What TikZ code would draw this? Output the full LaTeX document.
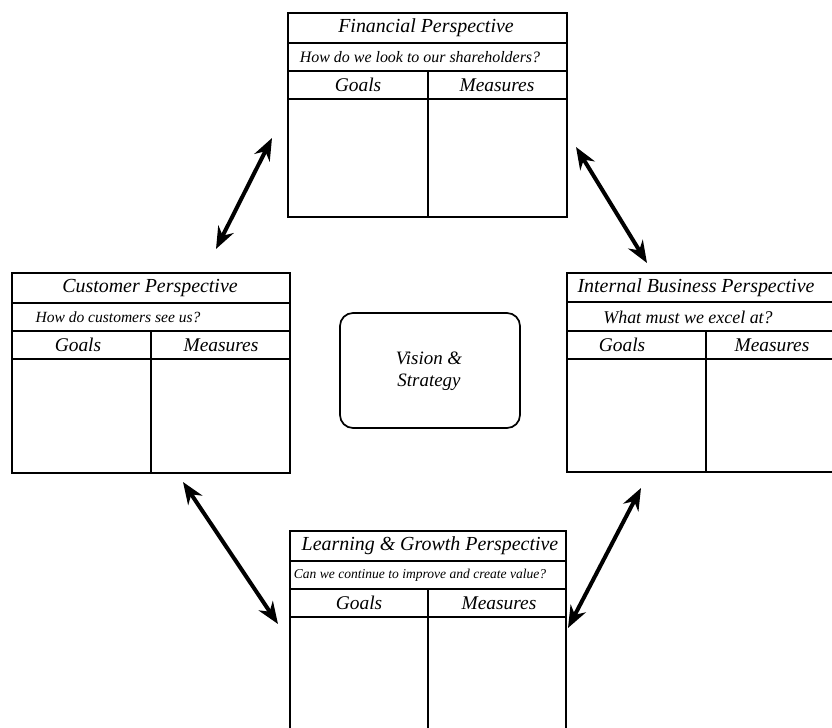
\documentclass[tikz,border=0pt]{standalone}
\usepackage{fontspec}
\setmainfont{Liberation Serif}
\usetikzlibrary{arrows.meta,fit}

\begin{document}
\begin{tikzpicture}[x=1bp,y=-1bp,
  frame/.style={draw=black, line width=1.6bp, inner sep=0pt},
  rowrule/.style={draw=black, line width=1.6bp},
  thickrule/.style={draw=black, line width=2.1bp},
  ttl/.style={inner sep=0pt, font=\fontsize{20}{22}\selectfont\itshape},
  hdr/.style={inner sep=0pt, font=\fontsize{19.5}{22}\selectfont\itshape},
  qst/.style={inner sep=0pt, font=\fontsize{#1}{#1}\selectfont\itshape},
  hub/.style={draw=black, line width=1.7bp, rounded corners=13bp, inner sep=0pt},
  link/.style={line width=4bp, {Stealth[length=22bp,width=17bp]}-{Stealth[length=22bp,width=17bp]}}
]
\useasboundingbox (0,0) rectangle (832,728);
\fill[white] (0,0) rectangle (832,728);

% ---------- Financial perspective ----------
\coordinate (fin-nw) at (288,13);
\coordinate (fin-se) at (567,217);
\node[frame, fit=(fin-nw)(fin-se)] (fin) {};
\draw[rowrule] (288,43) -- (567,43);
\draw[rowrule] (288,71) -- (567,71);
\draw[thickrule] (288,99) -- (567,99);
\draw[thickrule] (428,71) -- (428,217);
\node[ttl] (fin-title) at (426,28) {Financial Perspective};
\node[qst=16] (fin-q) at (420,57) {How do we look to our shareholders?};
\node[hdr] (fin-goals) at (358,85) {Goals};
\node[hdr] (fin-meas) at (497,85) {Measures};

% ---------- Customer perspective ----------
\coordinate (cus-nw) at (12,273);
\coordinate (cus-se) at (290,473);
\node[frame, fit=(cus-nw)(cus-se)] (cus) {};
\draw[rowrule] (12,303) -- (290,303);
\draw[rowrule] (12,331) -- (290,331);
\draw[thickrule] (12,359) -- (290,359);
\draw[thickrule] (151,331) -- (151,473);
\node[ttl] (cus-title) at (150,288) {Customer Perspective};
\node[qst=15.6] (cus-q) at (118,317) {How do customers see us?};
\node[hdr] (cus-goals) at (78,345) {Goals};
\node[hdr] (cus-meas) at (221,345) {Measures};

% ---------- Internal business perspective ----------
\coordinate (int-nw) at (567,273);
\coordinate (int-se) at (845,472);
\node[frame, fit=(int-nw)(int-se)] (int) {};
\draw[rowrule] (567,302) -- (845,302);
\draw[rowrule] (567,331) -- (845,331);
\draw[thickrule] (567,359) -- (845,359);
\draw[thickrule] (706,331) -- (706,472);
\node[ttl] (int-title) at (696,288) {Internal Business Perspective};
\node[qst=18] (int-q) at (688,317) {What must we excel at?};
\node[hdr] (int-goals) at (622,345) {Goals};
\node[hdr] (int-meas) at (772,345) {Measures};

% ---------- Learning & growth perspective ----------
\coordinate (lrn-nw) at (290,531);
\coordinate (lrn-se) at (566,740);
\node[frame, fit=(lrn-nw)(lrn-se)] (lrn) {};
\draw[rowrule] (290,561) -- (566,561);
\draw[rowrule] (290,589) -- (566,589);
\draw[thickrule] (290,617) -- (566,617);
\draw[thickrule] (428,589) -- (428,740);
\node[ttl] (lrn-title) at (430,546) {Learning \& Growth Perspective};
\node[qst=13.6] (lrn-q) at (420,575) {Can we continue to improve and create value?};
\node[hdr] (lrn-goals) at (359,603) {Goals};
\node[hdr] (lrn-meas) at (499,603) {Measures};

% ---------- Vision & strategy ----------
\coordinate (vis-nw) at (340,313);
\coordinate (vis-se) at (520,428);
\node[hub, fit=(vis-nw)(vis-se)] (vis) {};
\node[inner sep=0pt, align=center, font=\fontsize{19}{22}\selectfont\itshape] (vis-text) at (429,371) {Vision \&\\Strategy};

% ---------- Cause-and-effect links ----------
\coordinate (fc-a) at (272,138);
\coordinate (fc-b) at (216,249);
\coordinate (fi-a) at (576,147);
\coordinate (fi-b) at (647,263);
\coordinate (cl-a) at (183,482);
\coordinate (cl-b) at (278,624);
\coordinate (il-a) at (641,488);
\coordinate (il-b) at (568,628);
\draw[link] (fc-a) -- (fc-b);
\draw[link] (fi-a) -- (fi-b);
\draw[link] (cl-a) -- (cl-b);
\draw[link] (il-a) -- (il-b);
\end{tikzpicture}
\end{document}
